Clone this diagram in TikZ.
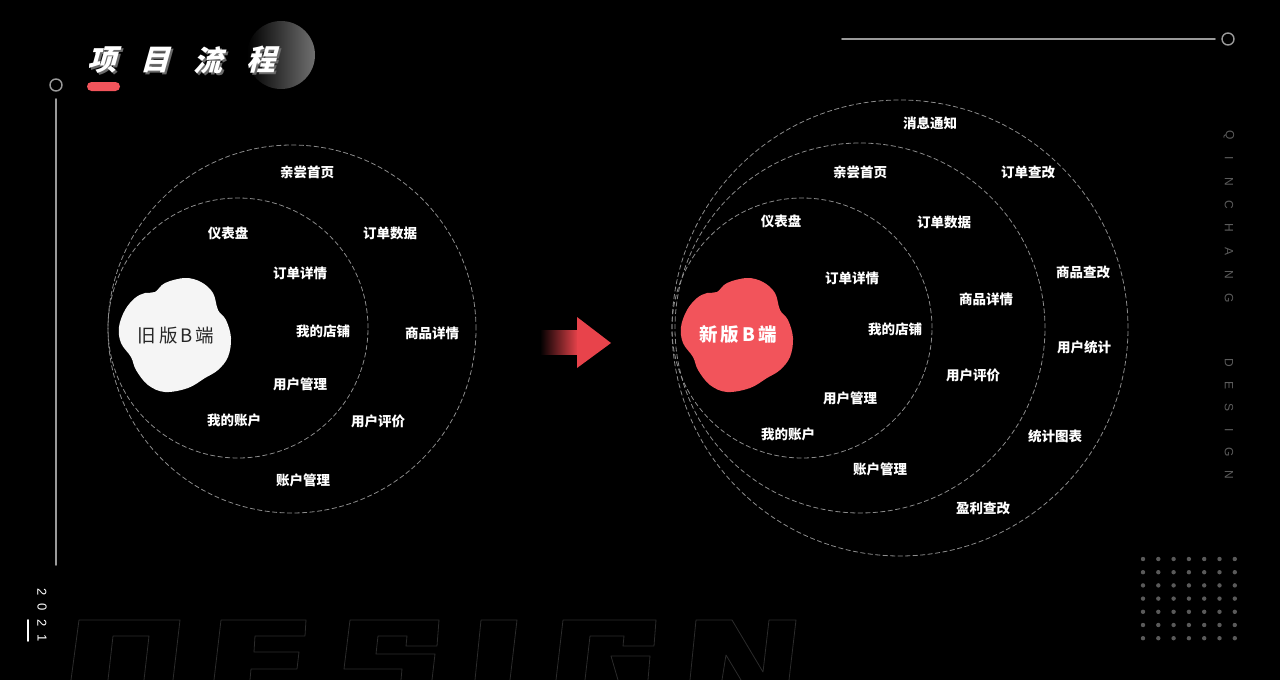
\documentclass[tikz,border=0pt]{standalone}
\usepackage{fontspec}
\setmainfont{Noto Sans CJK SC}
\newfontfamily\titlefont[FakeSlant=0.28]{Noto Sans CJK SC}
\newfontfamily\latinfont{Liberation Sans}
\usepackage{xcolor}
\usepackage{tikz}
\usetikzlibrary{arrows.meta,positioning,calc}

\definecolor{accent}{HTML}{F2545B}
\definecolor{arrowC}{HTML}{E8434B}
\definecolor{blobW}{HTML}{F5F5F5}
\definecolor{ringC}{HTML}{8C8C8C}
\definecolor{lineC}{HTML}{9A9A9A}
\definecolor{dotC}{HTML}{5A5A5A}
\definecolor{vtxtC}{HTML}{5C5C5C}
\definecolor{designC}{HTML}{2B2B2B}
\definecolor{shadowC}{HTML}{6A6A6A}
\definecolor{knobC}{HTML}{707070}

\begin{document}
\begin{tikzpicture}[
    x=1pt, y=-1pt,
    line join=round, line cap=round,
    ring/.style={draw=ringC, line width=0.8pt, dash pattern=on 4.5pt off 3pt},
    lbl/.style={text=white, inner sep=0pt, font=\fontsize{13.5}{14}\selectfont\bfseries},
    titletxt/.style={text=white, inner sep=0pt, font=\titlefont\bfseries\fontsize{29}{30}\selectfont},
    titleshadow/.style={titletxt, text=shadowC},
    deco/.style={draw=lineC, line width=1.8pt},
    knob/.style={draw=lineC, line width=1.4pt},
    vlet/.style={text=vtxtC, inner sep=0pt, rotate=-90, font=\latinfont\fontsize{12}{12}\selectfont},
    yearlet/.style={text=white, inner sep=0pt, rotate=-90, font=\latinfont\fontsize{13}{13}\selectfont},
    outlineL/.style={draw=designC, line width=0.8pt},
  ]

  % ---------- canvas ----------
  \useasboundingbox (0,0) rectangle (1280,680);
  \fill[black] (0,0) rectangle (1280,680);

  % ---------- DESIGN watermark (outlined letters, cut by the lower edge) ----------
  \draw[outlineL] (71,680) -- (79,620) -- (180,620) -- (173,680);                 % D
  \draw[outlineL] (108,680) -- (113,636) -- (149,636) -- (144,680);
  \draw[outlineL] (214,680) -- (221,620) -- (306,620) -- (305,636) -- (255,636)
        -- (254,652) -- (299,652) -- (297,669) -- (251,669) -- (250,680);          % E
  \draw[outlineL] (401,680) -- (402,669) -- (344,669) -- (350,620) -- (439,620)
        -- (437,646) -- (406,646) -- (407,636) -- (378,636) -- (376,654)
        -- (435,654) -- (432,680);                                                % S
  \draw[outlineL] (475,680) -- (481,620) -- (517,620) -- (510,680);               % I
  \draw[outlineL] (556,680) -- (563,620) -- (656,620) -- (654,646) -- (623,646)
        -- (624,636) -- (590,636) -- (585,680);                                   % G
  \draw[outlineL] (618,680) -- (611,656) -- (650,656) -- (648,680);
  \draw[outlineL] (690,680) -- (696,620) -- (732,620) -- (763,672) -- (769,620)
        -- (796,620) -- (789,680);                                                % N
  \draw[outlineL] (722,680) -- (726,655) -- (741,680);

  % ---------- TITLE ----------
  \shade[left color=black, right color=knobC] (281,55) circle[radius=34pt];
  \foreach \ch [count=\i from 0] in {项,目,流,程} {
    \node[titleshadow] at ({102+53*\i+2},{62}) {\ch};
    \node[titletxt] (title\i) at ({102+53*\i},60) {\ch};
  }
  \fill[accent, rounded corners=4.5pt] (87,82) rectangle (120,91);

  % ---------- side decorations ----------
  \draw[knob] (56,85) circle[radius=6pt];
  \draw[deco] (56,99) -- (56,565);
  \draw[deco] (842,39) -- (1215,39);
  \draw[knob] (1228,39) circle[radius=6pt];
  \draw[white, line width=1.6pt] (28,620) -- (28,641);
  \foreach \d [count=\i from 0] in {2,0,2,1}
    \node[yearlet] (year\i) at (42,{592+15.5*\i}) {\d};
  \foreach \ch [count=\i from 0] in {Q,I,N,C,H,A,N,G}
    \node[vlet] (qin\i) at (1229,{135+23.3*\i}) {\ch};
  \foreach \ch [count=\i from 0] in {D,E,S,I,G,N}
    \node[vlet] (des\i) at (1229,{363+22.4*\i}) {\ch};
  \foreach \i in {0,...,6}
    \foreach \j in {0,...,6}
      \fill[dotC] ({1143+15.3*\i},{559+13.2*\j}) circle[radius=2.2pt];

  % ---------- OLD version (left) ----------
  \draw[ring] (292,329) circle[radius=184pt];
  \draw[ring] (238,328) circle[radius=130pt];
  \foreach \n/\x/\y/\t in {oldHome/307/172/亲尝首页, oldDash/228/233/仪表盘,
      oldOrder/390/233/订单数据, oldDetail/300/273/订单详情, oldShop/323/331/我的店铺,
      oldGoods/432/333/商品详情, oldUser/300/384/用户管理, oldMine/234/420/我的账户,
      oldRate/378/421/用户评价, oldAcct/303/480/账户管理}
    \node[lbl] (\n) at (\x,\y) {\t};

  % ---------- NEW version (right) ----------
  \draw[ring] (900,328) circle[radius=228pt];
  \draw[ring] (860,328) circle[radius=185pt];
  \draw[ring] (802,328) circle[radius=130pt];
  \foreach \n/\x/\y/\t in {newMsg/930/123/消息通知, newHome/860/172/亲尝首页,
      newOrdEd/1028/172/订单查改, newDash/781/221/仪表盘, newOrder/944/222/订单数据,
      newDetail/852/278/订单详情, newGoodsEd/1083/272/商品查改, newGoods/986/299/商品详情,
      newShop/895/329/我的店铺, newStat/1084/347/用户统计, newRate/973/375/用户评价,
      newUser/850/398/用户管理, newMine/788/434/我的账户, newChart/1055/436/统计图表,
      newAcct/880/469/账户管理, newProfit/983/508/盈利查改}
    \node[lbl] (\n) at (\x,\y) {\t};

  % ---------- blobs ----------
  \foreach \bx/\bc in {176/blobW, 738/accent}
    \fill[\bc, shift={(\bx,334)}] plot[smooth cycle, tension=0.6] coordinates {
      (-21,-42) (-11,-51) (9,-56) (25,-52) (37,-41) (42,-24) (50,-14) (55,4)
      (52,23) (42,36) (29,44) (12,54) (-11,58) (-28,51) (-40,36) (-45,23)
      (-55,9) (-57,-7) (-51,-24) (-41,-36) (-31,-41)};
  \node[text=black!85, inner sep=0pt, font=\fontsize{18.5}{19}\selectfont]
    (oldBlob) at (176,335) {旧\,版\,B\,端};
  \node[text=white, inner sep=0pt, font=\fontsize{18.5}{19}\selectfont\bfseries]
    (newBlob) at (738,335) {新\,版\,B\,端};

  % ---------- arrow ----------
  \shade[left color=black, right color=arrowC] (540,330) rectangle (578,354);
  \fill[arrowC] (577,317) -- (611,343) -- (577,368) -- cycle;

\end{tikzpicture}
\end{document}
